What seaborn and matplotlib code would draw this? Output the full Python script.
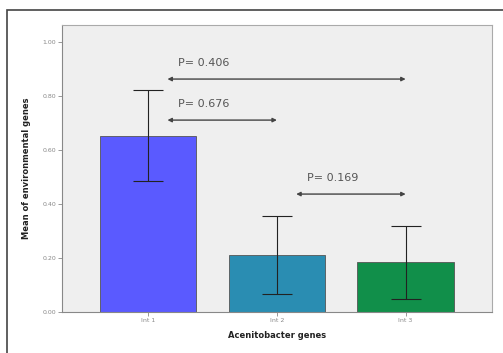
import matplotlib
matplotlib.use("Agg")
import matplotlib.pyplot as plt
import seaborn as sns
import pandas as pd
from matplotlib.patches import Rectangle

# donnees
genes = ["Int 1", "Int 2", "Int 3"]
means = [0.652, 0.213, 0.184]
ci_low = [0.485, 0.067, 0.048]
ci_high = [0.822, 0.356, 0.319]
colors = ["#5a5aff", "#2a8db2", "#118f4a"]

# comparaisons (groupe a, groupe b, p)
comp_a = [0, 0, 1]
comp_b = [2, 1, 2]
p_values = ["0.406", "0.676", "0.169"]
comp_y = [0.863, 0.711, 0.437]

df = pd.DataFrame({"gene": genes, "mean": means})

sns.set_style("ticks")
plt.rcParams["font.family"] = ["DejaVu Sans"]

fig = plt.figure(figsize=(5.03, 3.53), dpi=100)
ax = fig.add_axes([0.123, 0.116, 0.855, 0.813])

sns.barplot(data=df, x="gene", y="mean", hue="gene", palette=colors,
            saturation=1, errorbar=None, width=0.75, edgecolor="#555555",
            linewidth=0.6, legend=False, ax=ax)

err_lo = [m - l for m, l in zip(means, ci_low)]
err_hi = [h - m for m, h in zip(means, ci_high)]
ax.errorbar(range(len(genes)), means, yerr=[err_lo, err_hi], fmt="none",
            ecolor="#222222", elinewidth=0.8, capsize=10.5, capthick=0.8)

for a, b, p, y in zip(comp_a, comp_b, p_values, comp_y):
    ax.annotate("", xy=(b, y), xytext=(a + 0.15, y),
                arrowprops=dict(arrowstyle="<|-|>", color="#444444", lw=1.0,
                                mutation_scale=6, shrinkA=0, shrinkB=0))
    ax.text(a + 0.23, y + 0.04, "P= " + p, fontsize=8, color="#555555",
            ha="left", va="bottom")

ax.set_facecolor("#efefef")
ax.set_xlim(-0.67, 2.67)
ax.set_ylim(0, 1.063)
ax.set_yticks([0, 0.2, 0.4, 0.6, 0.8, 1.0])
ax.set_yticklabels(["0.00", "0.20", "0.40", "0.60", "0.80", "1.00"])
ax.tick_params(axis="both", labelsize=4.5, colors="#888888", length=3, width=0.6,
               labelcolor="#888888", pad=1)
for s in ax.spines.values():
    s.set_color("#aaaaaa")
    s.set_linewidth(0.8)
ax.spines["left"].set_color("#888888")
ax.spines["bottom"].set_color("#888888")

ax.set_xlabel("Acenitobacter genes", fontsize=6, fontweight="bold", color="#222222",
              labelpad=6)
ax.set_ylabel("Mean of environmental genes", fontsize=6, fontweight="bold",
              color="#222222", labelpad=8)

# cadre exterieur
fig.patches.append(Rectangle((7 / 503, -0.1), 1.2, 1 - 10 / 353 + 0.1,
                             transform=fig.transFigure, fill=False,
                             edgecolor="#444444", linewidth=1.2))

fig.savefig("out.png", dpi=100)
